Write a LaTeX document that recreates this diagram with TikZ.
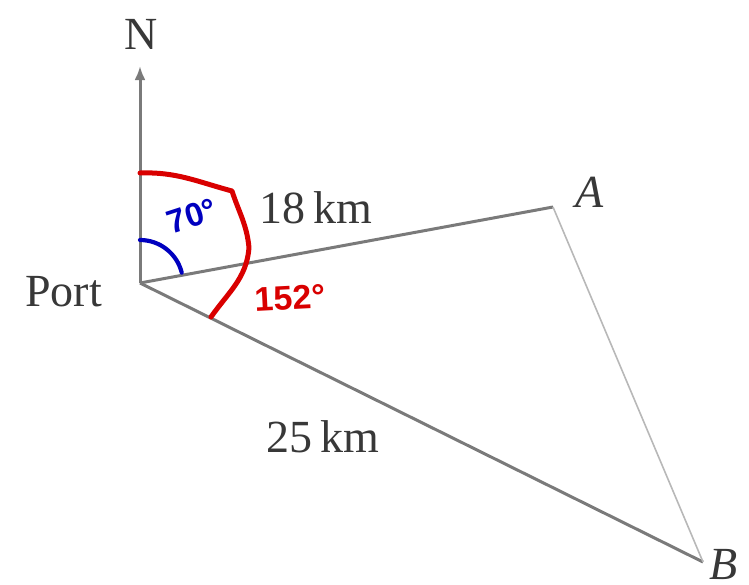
\documentclass[tikz,border=0pt]{standalone}
\usepackage{fontspec}
\setmainfont{Liberation Serif}
\newfontfamily\handfont{Liberation Sans}
\usetikzlibrary{arrows.meta}
\begin{document}
\begin{tikzpicture}[x=1pt,y=-1pt,
  edge/.style={draw=black!52,line width=3pt},
  faint/.style={draw=black!28,line width=1.6pt},
  lbl/.style={font=\fontsize{46}{50}\selectfont,text=black!78,inner sep=0pt},
  redmark/.style={draw=red!85!black,line width=5pt,line cap=round,line join=round},
  bluemark/.style={draw=blue!75!black,line width=4.2pt,line cap=round},
  handred/.style={font=\handfont\bfseries\fontsize{34}{36}\selectfont,text=red!85!black,inner sep=0pt},
  handblue/.style={font=\handfont\bfseries\fontsize{33}{35}\selectfont,text=blue!75!black,inner sep=0pt}]
\useasboundingbox (0,0) rectangle (749,584);
\coordinate (P) at (140,283);
\coordinate (Ntip) at (140,66);
\coordinate (A) at (553,207);
\coordinate (B) at (703,562);
\node[lbl] (Nl) at (141,34) {N};
\node[lbl,anchor=east] (Pl) at (102,292) {Port};
\node[lbl] (Al) at (590,192) {\itshape A};
\node[lbl,anchor=east] (Bl) at (738,564) {\itshape B};
\node[lbl] (d1) at (316,208) {18\,km};
\node[lbl] (d2) at (323,437) {25\,km};
\draw[edge,-{Latex[length=14pt,width=11pt]}] (P) -- (Ntip);
\draw[edge] (P) -- (A);
\draw[edge] (P) -- (B);
\draw[faint] (A) -- (B);
\draw[redmark] (140,173) to[out=2,in=165] (232,191) to[out=-72,in=95] (249,248) to[out=-95,in=55] (211,317);
\draw[bluemark] (140,240) arc[start angle=-90,end angle=-14,radius=43];
\node[handblue,rotate=18] (a1) at (192,216) {70°};
\node[handred,rotate=3] (a2) at (290,298) {152°};
\end{tikzpicture}
\end{document}
